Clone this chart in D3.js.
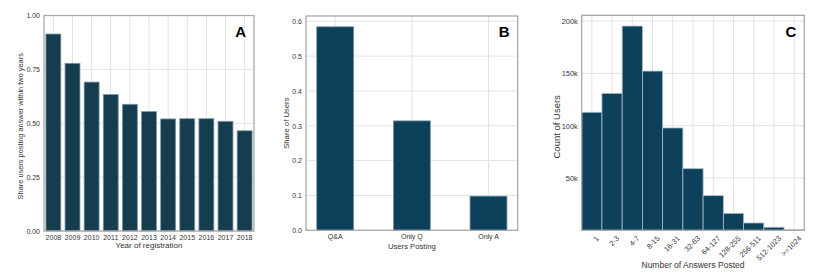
<!DOCTYPE html>
<html lang="en">
<head>
<meta charset="UTF-8">
<title>Answering activity</title>
<script src="https://d3js.org/d3.v7.min.js"></script>
<style>
  body { margin: 0; background: #fff; }
  text { font-family: "Liberation Sans", Arial, sans-serif; fill: #333; }
  .grid line { stroke: #e3e3e3; stroke-width: 1; }
  .frame { fill: none; stroke: #a8a8a8; stroke-width: 1.3; }
  .letter { font-size: 15px; font-weight: bold; fill: #000; }
</style>
</head>
<body>
<svg width="830" height="276"></svg>
<script>
// panel A
var years = ["2008","2009","2010","2011","2012","2013","2014","2015","2016","2017","2018"];
var shareAnswer = [0.914, 0.778, 0.691, 0.633, 0.588, 0.554, 0.520, 0.521, 0.521, 0.509, 0.465];
var ticksA = [0, 0.25, 0.5, 0.75, 1.0];

// panel B
var groups = ["Q&A", "Only Q", "Only A"];
var shareUsers = [0.584, 0.314, 0.098];
var ticksB = [0, 0.1, 0.2, 0.3, 0.4, 0.5, 0.6];

// panel C
var bins = ["1","2-3","4-7","8-15","16-31","32-63","64-127","128-255","256-511","512-1023",">=1024"];
var userCounts = [112800, 130900, 195200, 152200, 97800, 58900, 33100, 16200, 7000, 2900, 400];
var ticksC = [50000, 100000, 150000, 200000];

var svg = d3.select("svg");

function panel(opt) {
    var x = d3.scaleBand().domain(opt.cats).range([opt.x0, opt.x1])
        .paddingInner(opt.pi).paddingOuter(opt.po);
    var y = d3.scaleLinear().domain([0, opt.ymax]).range([opt.y1, opt.y0]);
    var g = svg.append("g");

    // grid
    var grid = g.append("g").attr("class", "grid");
    grid.selectAll(".v").data(opt.cats).enter().append("line")
        .attr("x1", function(d) { return x(d) + x.bandwidth() / 2; })
        .attr("x2", function(d) { return x(d) + x.bandwidth() / 2; })
        .attr("y1", opt.y0).attr("y2", opt.y1);
    grid.selectAll(".h").data(opt.yticks).enter().append("line")
        .attr("x1", opt.x0).attr("x2", opt.x1)
        .attr("y1", function(d) { return y(d); })
        .attr("y2", function(d) { return y(d); });

    // bars
    g.selectAll(".bar").data(opt.vals).enter().append("rect")
        .attr("x", function(d, i) { return x(opt.cats[i]); })
        .attr("width", x.bandwidth())
        .attr("y", function(d) { return y(d); })
        .attr("height", function(d) { return y(0) - y(d); })
        .style("fill", opt.color)
        .style("stroke", opt.edge)
        .style("stroke-width", 0.8);

    g.append("rect").attr("class", "frame")
        .attr("x", opt.x0).attr("y", opt.y0)
        .attr("width", opt.x1 - opt.x0).attr("height", opt.y1 - opt.y0);

    // y axis
    var ya = g.append("g")
        .attr("transform", "translate(" + opt.x0 + ",0)")
        .call(d3.axisLeft(y).tickValues(opt.yticks).tickFormat(opt.yfmt).tickSize(0).tickPadding(4));
    ya.select(".domain").remove();
    ya.selectAll("text").style("font-size", opt.tickSize + "px");

    // x axis
    var xa = g.append("g")
        .attr("transform", "translate(0," + opt.y1 + ")")
        .call(d3.axisBottom(x).tickSize(0).tickPadding(4));
    xa.select(".domain").remove();
    xa.selectAll("text").style("font-size", opt.tickSize + "px");
    if (opt.rotate) {
        xa.selectAll("text")
            .attr("text-anchor", "end")
            .attr("dy", "0.35em")
            .attr("transform", "translate(3,4) rotate(-45)");
    }

    g.append("text")
        .attr("x", (opt.x0 + opt.x1) / 2).attr("y", opt.xtitleY)
        .attr("text-anchor", "middle").style("font-size", opt.xtitleSize + "px")
        .text(opt.xtitle);
    g.append("text")
        .attr("transform", "translate(" + opt.ytitleX + "," + ((opt.y0 + opt.y1) / 2 + opt.ytitleDy) + ") rotate(-90)")
        .attr("text-anchor", "middle").style("font-size", opt.ytitleSize + "px")
        .text(opt.ytitle);
    g.append("text").attr("class", "letter")
        .attr("x", opt.x1 - 8).attr("y", 37.3)
        .attr("text-anchor", "end").text(opt.letter);
}

panel({
    cats: years, vals: shareAnswer, x0: 44, x1: 254, y0: 15.5, y1: 231,
    pi: 0.22, po: 0.1, ymax: 1, yticks: ticksA, yfmt: d3.format(".2f"),
    color: "#163c4f", edge: "#7a95a3", tickSize: 7,
    xtitle: "Year of registration", xtitleY: 248, xtitleSize: 8,
    ytitle: "Share users posting answer within two years", ytitleX: 23, ytitleDy: 3, ytitleSize: 7.4,
    letter: "A"
});

panel({
    cats: groups, vals: shareUsers, x0: 306, x1: 517.7, y0: 16, y1: 230.3,
    pi: 0.518, po: 0.14, ymax: 0.615, yticks: ticksB, yfmt: d3.format(".1f"),
    color: "#0c405b", edge: "#7a98a8", tickSize: 7,
    xtitle: "Users Posting", xtitleY: 249, xtitleSize: 7.7,
    ytitle: "Share of Users", ytitleX: 289, ytitleDy: 0, ytitleSize: 7.7,
    letter: "B"
});

panel({
    cats: bins, vals: userCounts, x0: 581.7, x1: 804.3, y0: 15.3, y1: 230.3,
    pi: 0, po: 0, ymax: 205500, yticks: ticksC, yfmt: function(d) { return (d / 1000) + "k"; },
    color: "#0c405b", edge: "#a9bcc6", rotate: true, tickSize: 7.4,
    xtitle: "Number of Answers Posted", xtitleY: 268, xtitleSize: 8.5,
    ytitle: "Count of Users", ytitleX: 560, ytitleDy: 4, ytitleSize: 9.5,
    letter: "C"
});
</script>
</body>
</html>
